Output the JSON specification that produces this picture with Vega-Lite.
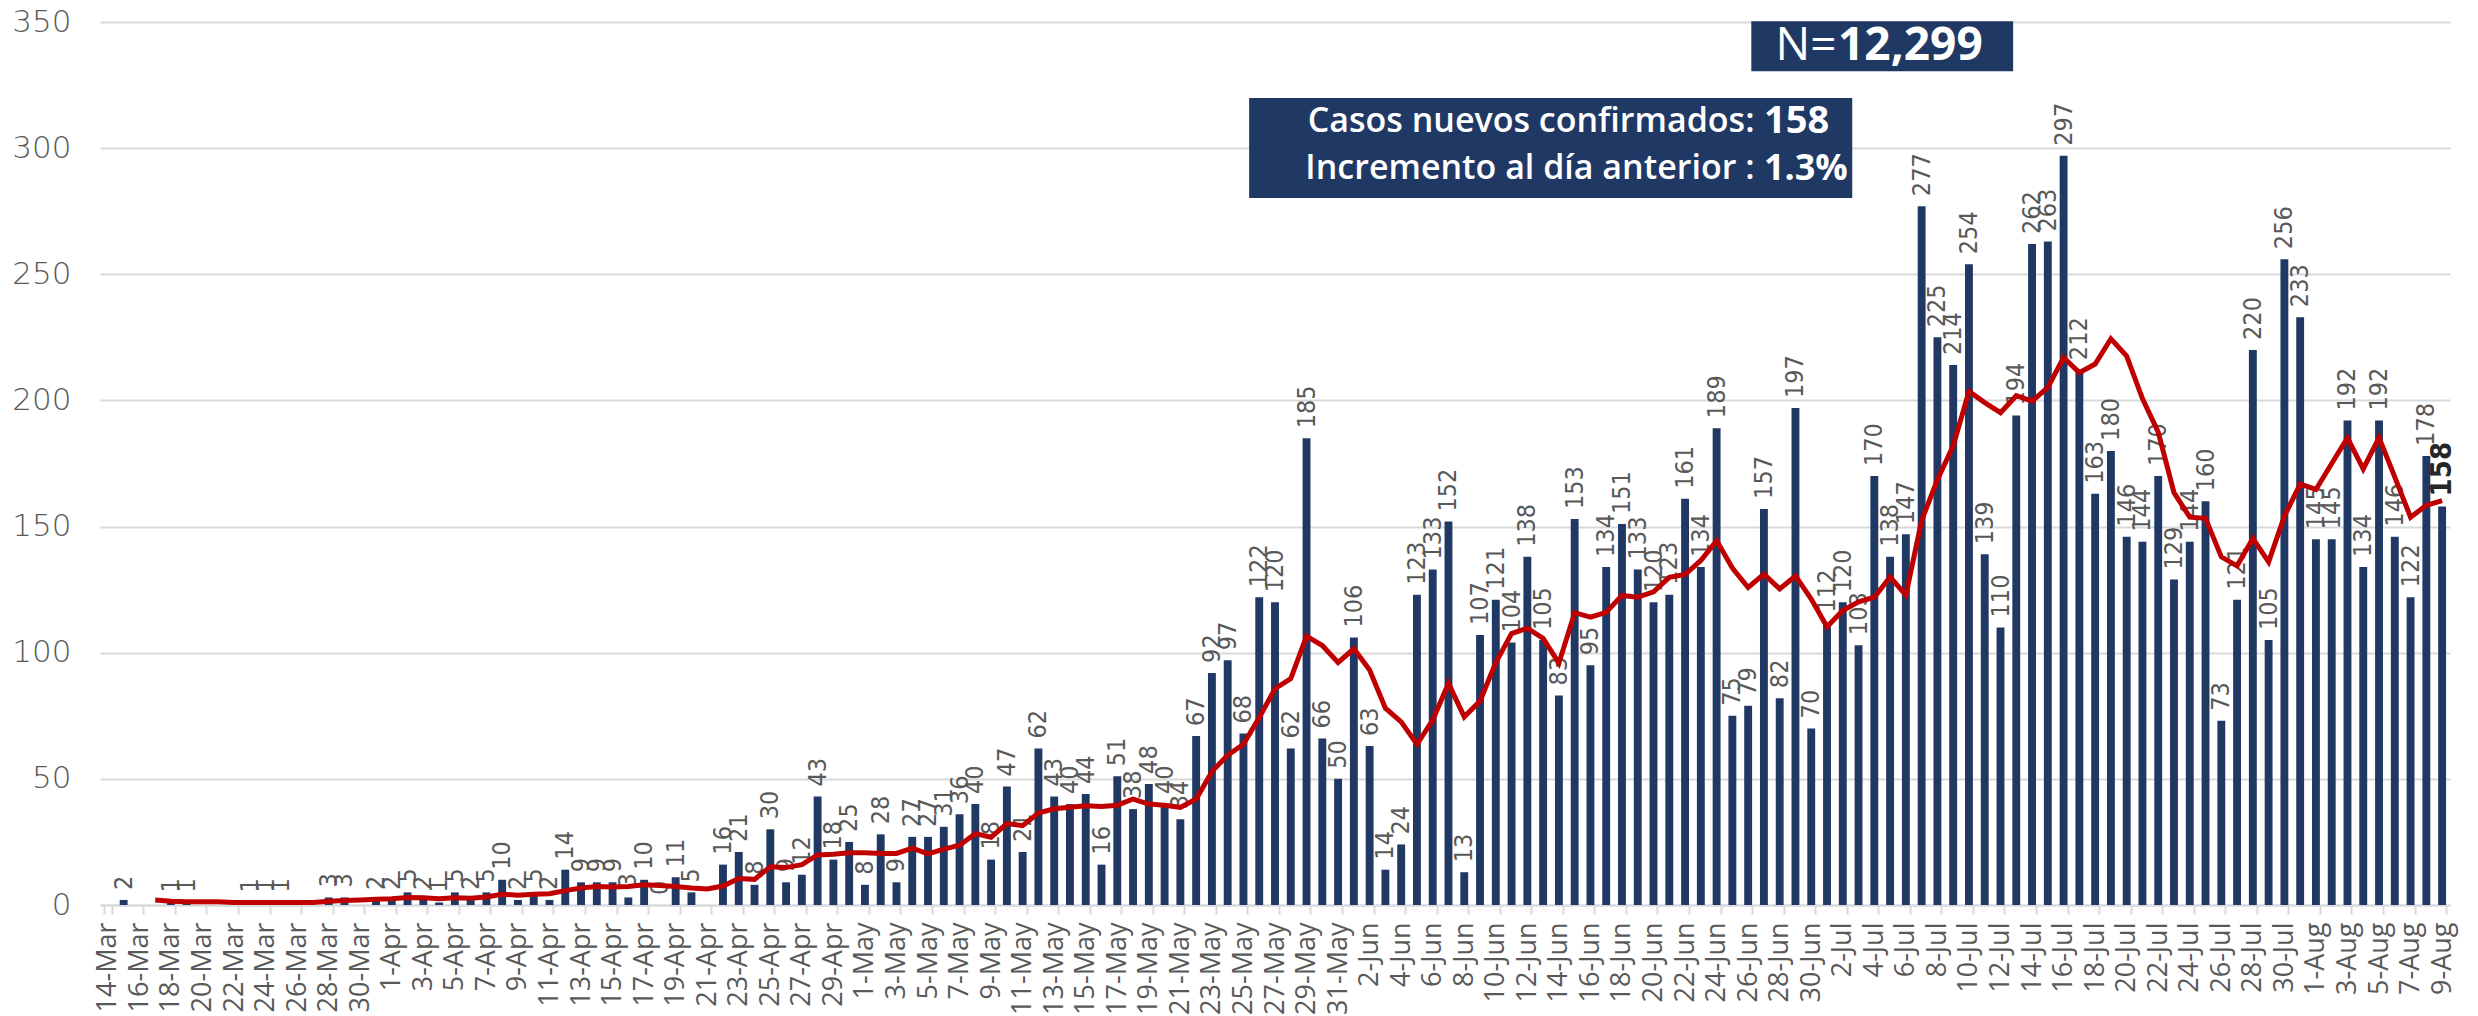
{
  "$schema": "https://vega.github.io/schema/vega-lite/v6.json",
  "width": 2350,
  "height": 883,
  "autosize": {"type": "none"},
  "padding": {"left": 100, "top": 22, "right": 28, "bottom": 111},
  "background": "white",
  "config": {"view": {"stroke": null}},
  "datasets": {
    "cases": [
      {"d":"14-Mar","v":null,"ma":null},{"d":"15-Mar","v":2,"ma":null},{"d":"16-Mar","v":null,"ma":null},{"d":"17-Mar","v":null,"ma":2.0},
      {"d":"18-Mar","v":1,"ma":1.5},{"d":"19-Mar","v":1,"ma":1.33},{"d":"20-Mar","v":null,"ma":1.33},{"d":"21-Mar","v":null,"ma":1.33},
      {"d":"22-Mar","v":null,"ma":1.0},{"d":"23-Mar","v":1,"ma":1.0},{"d":"24-Mar","v":1,"ma":1.0},{"d":"25-Mar","v":1,"ma":1.0},
      {"d":"26-Mar","v":null,"ma":1.0},{"d":"27-Mar","v":null,"ma":1.0},{"d":"28-Mar","v":3,"ma":1.5},{"d":"29-Mar","v":3,"ma":1.8},
      {"d":"30-Mar","v":null,"ma":2.0},{"d":"31-Mar","v":2,"ma":2.25},
      {"d":"1-Apr","v":2,"ma":2.5},{"d":"2-Apr","v":5,"ma":3.0},{"d":"3-Apr","v":2,"ma":2.83},{"d":"4-Apr","v":1,"ma":2.5},
      {"d":"5-Apr","v":5,"ma":2.83},{"d":"6-Apr","v":2,"ma":2.71},{"d":"7-Apr","v":5,"ma":3.14},{"d":"8-Apr","v":10,"ma":4.29},
      {"d":"9-Apr","v":2,"ma":3.86},{"d":"10-Apr","v":5,"ma":4.29},{"d":"11-Apr","v":2,"ma":4.43},{"d":"12-Apr","v":14,"ma":5.71},
      {"d":"13-Apr","v":9,"ma":6.71},{"d":"14-Apr","v":9,"ma":7.29},{"d":"15-Apr","v":9,"ma":7.14},{"d":"16-Apr","v":3,"ma":7.29},
      {"d":"17-Apr","v":10,"ma":8.0},{"d":"18-Apr","v":0,"ma":7.71},{"d":"19-Apr","v":11,"ma":7.29},{"d":"20-Apr","v":5,"ma":6.71},
      {"d":"21-Apr","v":null,"ma":6.33},{"d":"22-Apr","v":16,"ma":7.5},{"d":"23-Apr","v":21,"ma":10.5},{"d":"24-Apr","v":8,"ma":10.17},
      {"d":"25-Apr","v":30,"ma":15.17},{"d":"26-Apr","v":9,"ma":14.83},{"d":"27-Apr","v":12,"ma":16.0},{"d":"28-Apr","v":43,"ma":19.86},
      {"d":"29-Apr","v":18,"ma":20.14},{"d":"30-Apr","v":25,"ma":20.71},
      {"d":"1-May","v":8,"ma":20.71},{"d":"2-May","v":28,"ma":20.43},{"d":"3-May","v":9,"ma":20.43},{"d":"4-May","v":27,"ma":22.57},
      {"d":"5-May","v":27,"ma":20.29},{"d":"6-May","v":31,"ma":22.14},{"d":"7-May","v":36,"ma":23.71},{"d":"8-May","v":40,"ma":28.29},
      {"d":"9-May","v":18,"ma":26.86},{"d":"10-May","v":47,"ma":32.29},{"d":"11-May","v":21,"ma":31.43},{"d":"12-May","v":62,"ma":36.43},
      {"d":"13-May","v":43,"ma":38.14},{"d":"14-May","v":40,"ma":38.71},{"d":"15-May","v":44,"ma":39.29},{"d":"16-May","v":16,"ma":39.0},
      {"d":"17-May","v":51,"ma":39.57},{"d":"18-May","v":38,"ma":42.0},{"d":"19-May","v":48,"ma":40.0},{"d":"20-May","v":40,"ma":39.57},
      {"d":"21-May","v":34,"ma":38.71},{"d":"22-May","v":67,"ma":42.0},{"d":"23-May","v":92,"ma":52.86},{"d":"24-May","v":97,"ma":59.43},
      {"d":"25-May","v":68,"ma":63.71},{"d":"26-May","v":122,"ma":74.29},{"d":"27-May","v":120,"ma":85.71},{"d":"28-May","v":62,"ma":89.71},
      {"d":"29-May","v":185,"ma":106.57},{"d":"30-May","v":66,"ma":102.86},{"d":"31-May","v":50,"ma":96.14},
      {"d":"1-Jun","v":106,"ma":101.57},{"d":"2-Jun","v":63,"ma":93.14},{"d":"3-Jun","v":14,"ma":78.0},{"d":"4-Jun","v":24,"ma":72.57},
      {"d":"5-Jun","v":123,"ma":63.71},{"d":"6-Jun","v":133,"ma":73.29},{"d":"7-Jun","v":152,"ma":87.86},{"d":"8-Jun","v":13,"ma":74.57},
      {"d":"9-Jun","v":107,"ma":80.86},{"d":"10-Jun","v":121,"ma":96.14},{"d":"11-Jun","v":104,"ma":107.57},{"d":"12-Jun","v":138,"ma":109.71},
      {"d":"13-Jun","v":105,"ma":105.71},{"d":"14-Jun","v":83,"ma":95.86},{"d":"15-Jun","v":153,"ma":115.86},{"d":"16-Jun","v":95,"ma":114.14},
      {"d":"17-Jun","v":134,"ma":116.0},{"d":"18-Jun","v":151,"ma":122.71},{"d":"19-Jun","v":133,"ma":122.0},{"d":"20-Jun","v":120,"ma":124.14},
      {"d":"21-Jun","v":123,"ma":129.86},{"d":"22-Jun","v":161,"ma":131.0},{"d":"23-Jun","v":134,"ma":136.57},{"d":"24-Jun","v":189,"ma":144.43},
      {"d":"25-Jun","v":75,"ma":133.57},{"d":"26-Jun","v":79,"ma":125.86},{"d":"27-Jun","v":157,"ma":131.14},{"d":"28-Jun","v":82,"ma":125.29},
      {"d":"29-Jun","v":197,"ma":130.43},{"d":"30-Jun","v":70,"ma":121.29},
      {"d":"1-Jul","v":112,"ma":110.29},{"d":"2-Jul","v":120,"ma":116.71},{"d":"3-Jul","v":103,"ma":120.14},{"d":"4-Jul","v":170,"ma":122.0},
      {"d":"5-Jul","v":138,"ma":130.0},{"d":"6-Jul","v":147,"ma":122.86},{"d":"7-Jul","v":277,"ma":152.43},{"d":"8-Jul","v":225,"ma":168.57},
      {"d":"9-Jul","v":214,"ma":182.0},{"d":"10-Jul","v":254,"ma":203.57},{"d":"11-Jul","v":139,"ma":199.14},{"d":"12-Jul","v":110,"ma":195.14},
      {"d":"13-Jul","v":194,"ma":201.86},{"d":"14-Jul","v":262,"ma":199.71},{"d":"15-Jul","v":263,"ma":205.14},{"d":"16-Jul","v":297,"ma":217.0},
      {"d":"17-Jul","v":212,"ma":211.0},{"d":"18-Jul","v":163,"ma":214.43},{"d":"19-Jul","v":180,"ma":224.43},{"d":"20-Jul","v":146,"ma":217.57},
      {"d":"21-Jul","v":144,"ma":200.71},{"d":"22-Jul","v":170,"ma":187.43},{"d":"23-Jul","v":129,"ma":163.43},{"d":"24-Jul","v":144,"ma":153.71},
      {"d":"25-Jul","v":160,"ma":153.29},{"d":"26-Jul","v":73,"ma":138.0},{"d":"27-Jul","v":121,"ma":134.43},{"d":"28-Jul","v":220,"ma":145.29},
      {"d":"29-Jul","v":105,"ma":136.0},{"d":"30-Jul","v":256,"ma":154.14},{"d":"31-Jul","v":233,"ma":166.86},
      {"d":"1-Aug","v":145,"ma":164.71},{"d":"2-Aug","v":145,"ma":175.0},{"d":"3-Aug","v":192,"ma":185.14},{"d":"4-Aug","v":134,"ma":172.86},
      {"d":"5-Aug","v":192,"ma":185.29},{"d":"6-Aug","v":146,"ma":169.57},{"d":"7-Aug","v":122,"ma":153.71},{"d":"8-Aug","v":178,"ma":158.43},
      {"d":"9-Aug","v":158,"ma":160.29}
    ]
  },
  "layer": [
    {
      "data": {"name": "cases"},
      "encoding": {
        "x": {
          "field": "d", "type": "ordinal", "sort": null,
          "scale": {
            "paddingInner": 0.5, "paddingOuter": 0.25,
            "domain": ["14-Mar","15-Mar","16-Mar","17-Mar","18-Mar","19-Mar","20-Mar","21-Mar","22-Mar","23-Mar","24-Mar","25-Mar","26-Mar","27-Mar","28-Mar","29-Mar","30-Mar","31-Mar",
              "1-Apr","2-Apr","3-Apr","4-Apr","5-Apr","6-Apr","7-Apr","8-Apr","9-Apr","10-Apr","11-Apr","12-Apr","13-Apr","14-Apr","15-Apr","16-Apr","17-Apr","18-Apr","19-Apr","20-Apr","21-Apr","22-Apr","23-Apr","24-Apr","25-Apr","26-Apr","27-Apr","28-Apr","29-Apr","30-Apr",
              "1-May","2-May","3-May","4-May","5-May","6-May","7-May","8-May","9-May","10-May","11-May","12-May","13-May","14-May","15-May","16-May","17-May","18-May","19-May","20-May","21-May","22-May","23-May","24-May","25-May","26-May","27-May","28-May","29-May","30-May","31-May",
              "1-Jun","2-Jun","3-Jun","4-Jun","5-Jun","6-Jun","7-Jun","8-Jun","9-Jun","10-Jun","11-Jun","12-Jun","13-Jun","14-Jun","15-Jun","16-Jun","17-Jun","18-Jun","19-Jun","20-Jun","21-Jun","22-Jun","23-Jun","24-Jun","25-Jun","26-Jun","27-Jun","28-Jun","29-Jun","30-Jun",
              "1-Jul","2-Jul","3-Jul","4-Jul","5-Jul","6-Jul","7-Jul","8-Jul","9-Jul","10-Jul","11-Jul","12-Jul","13-Jul","14-Jul","15-Jul","16-Jul","17-Jul","18-Jul","19-Jul","20-Jul","21-Jul","22-Jul","23-Jul","24-Jul","25-Jul","26-Jul","27-Jul","28-Jul","29-Jul","30-Jul","31-Jul",
              "1-Aug","2-Aug","3-Aug","4-Aug","5-Aug","6-Aug","7-Aug","8-Aug","9-Aug"]
          },
          "axis": {
            "title": null,
            "values": ["14-Mar","16-Mar","18-Mar","20-Mar","22-Mar","24-Mar","26-Mar","28-Mar","30-Mar","1-Apr","3-Apr","5-Apr","7-Apr","9-Apr","11-Apr","13-Apr","15-Apr","17-Apr","19-Apr","21-Apr","23-Apr","25-Apr","27-Apr","29-Apr","1-May","3-May","5-May","7-May","9-May","11-May","13-May","15-May","17-May","19-May","21-May","23-May","25-May","27-May","29-May","31-May","2-Jun","4-Jun","6-Jun","8-Jun","10-Jun","12-Jun","14-Jun","16-Jun","18-Jun","20-Jun","22-Jun","24-Jun","26-Jun","28-Jun","30-Jun","2-Jul","4-Jul","6-Jul","8-Jul","10-Jul","12-Jul","14-Jul","16-Jul","18-Jul","20-Jul","22-Jul","24-Jul","26-Jul","28-Jul","30-Jul","1-Aug","3-Aug","5-Aug","7-Aug","9-Aug"],
            "tickBand": "extent",
            "ticks": true, "tickColor": "#D9D9D9", "tickWidth": 2, "tickSize": 9,
            "domain": true, "domainColor": "#D9D9D9", "domainWidth": 2,
            "grid": false,
            "labelAngle": 270, "labelOverlap": false,
            "labelFont": "Open Sans", "labelFontSize": 27, "labelColor": "#595959", "labelPadding": 8
          }
        }
      },
      "layer": [
        {
          "mark": {"type": "bar", "color": "#203864"},
          "encoding": {
            "y": {
              "field": "v", "type": "quantitative",
              "scale": {"domain": [0, 350], "nice": false},
              "axis": {
                "title": null, "values": [0, 50, 100, 150, 200, 250, 300, 350],
                "grid": true, "gridColor": "#D9D9D9", "gridWidth": 2,
                "domain": false, "ticks": false,
                "labelFont": "DejaVu Sans", "labelFontSize": 31, "labelFontWeight": 300,
                "labelColor": "#595959", "labelPadding": 29
              }
            }
          }
        },
        {
          "transform": [{"filter": "datum.d != '9-Aug'"}],
          "mark": {"type": "text", "angle": 270, "align": "left", "baseline": "middle", "dx": 10,
                   "font": "Liberation Sans Narrow, DejaVu Sans Condensed, sans-serif", "fontSize": 25, "color": "#595959"},
          "encoding": {
            "y": {"field": "v", "type": "quantitative"},
            "text": {"field": "v", "type": "quantitative"}
          }
        },
        {
          "transform": [{"filter": "datum.d == '9-Aug'"}],
          "mark": {"type": "text", "angle": 270, "align": "left", "baseline": "middle", "dx": 10,
                   "font": "Liberation Sans Narrow, DejaVu Sans Condensed, sans-serif", "fontSize": 29, "fontWeight": "bold", "color": "#262626"},
          "encoding": {
            "y": {"field": "v", "type": "quantitative"},
            "text": {"field": "v", "type": "quantitative"}
          }
        },
        {
          "mark": {"type": "line", "color": "#C00000", "strokeWidth": 5},
          "encoding": {
            "y": {"field": "ma", "type": "quantitative"}
          }
        }
      ]
    },
    {
      "data": {"values": [{}]},
      "layer": [
        {
          "mark": {"type": "rect", "color": "#203864"},
          "encoding": {
            "x": {"datum": 104.7, "type": "quantitative", "scale": {"domain": [0, 149], "nice": false, "zero": false}, "axis": null},
            "x2": {"datum": 121.3},
            "y": {"datum": 330.5, "type": "quantitative", "scale": {"domain": [0, 350], "nice": false}},
            "y2": {"datum": 350.3}
          }
        },
        {
          "mark": {"type": "rect", "color": "#203864"},
          "encoding": {
            "x": {"datum": 72.86, "type": "quantitative", "axis": null},
            "x2": {"datum": 111.1},
            "y": {"datum": 280.2, "type": "quantitative"},
            "y2": {"datum": 319.9}
          }
        },
        {
          "mark": {"type": "text", "text": "N=", "align": "right", "baseline": "middle", "font": "Open Sans", "fontSize": 46, "color": "white"},
          "encoding": {
            "x": {"datum": 110.1, "type": "quantitative", "axis": null},
            "y": {"datum": 340.5, "type": "quantitative"}
          }
        },
        {
          "mark": {"type": "text", "text": "12,299", "align": "left", "baseline": "middle", "font": "Open Sans", "fontSize": 46, "fontWeight": "bold", "color": "white"},
          "encoding": {
            "x": {"datum": 110.2, "type": "quantitative", "axis": null},
            "y": {"datum": 340.5, "type": "quantitative"}
          }
        },
        {
          "mark": {"type": "text", "text": "Casos nuevos confirmados:", "align": "right", "baseline": "middle", "font": "Open Sans", "fontSize": 34, "fontWeight": 600, "color": "white"},
          "encoding": {
            "x": {"datum": 104.9, "type": "quantitative", "axis": null},
            "y": {"datum": 310.4, "type": "quantitative"}
          }
        },
        {
          "mark": {"type": "text", "text": "158", "align": "left", "baseline": "middle", "font": "Open Sans", "fontSize": 38, "fontWeight": "bold", "color": "white"},
          "encoding": {
            "x": {"datum": 105.5, "type": "quantitative", "axis": null},
            "y": {"datum": 310.4, "type": "quantitative"}
          }
        },
        {
          "mark": {"type": "text", "text": "Incremento al día anterior :", "align": "right", "baseline": "middle", "font": "Open Sans", "fontSize": 34, "fontWeight": 600, "color": "white"},
          "encoding": {
            "x": {"datum": 104.9, "type": "quantitative", "axis": null},
            "y": {"datum": 291.7, "type": "quantitative"}
          }
        },
        {
          "mark": {"type": "text", "text": "1.3%", "align": "left", "baseline": "middle", "font": "Open Sans", "fontSize": 36, "fontWeight": "bold", "color": "white"},
          "encoding": {
            "x": {"datum": 105.5, "type": "quantitative", "axis": null},
            "y": {"datum": 291.7, "type": "quantitative"}
          }
        }
      ]
    }
  ],
  "resolve": {"scale": {"x": "independent"}}
}
